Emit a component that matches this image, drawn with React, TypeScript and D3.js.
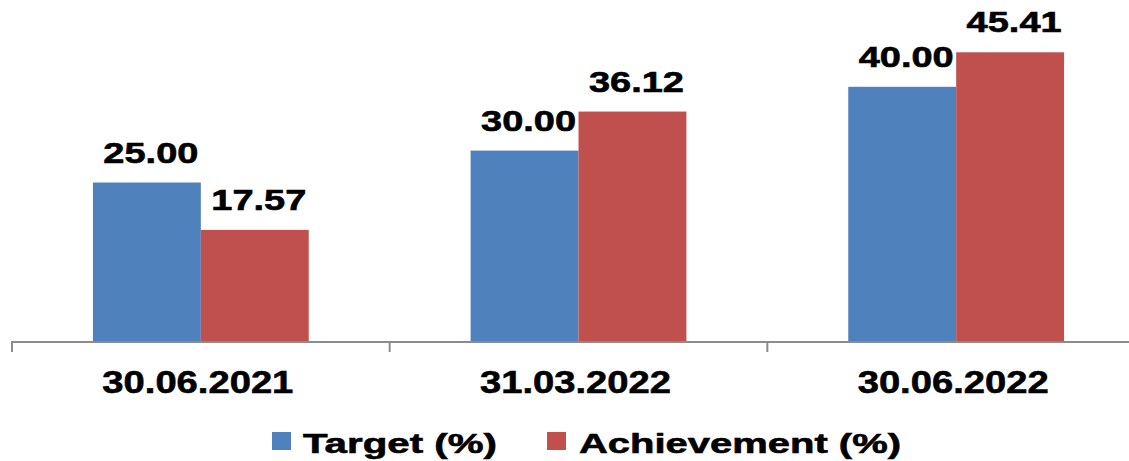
import { useEffect, useRef } from 'react';
import * as d3 from 'd3';

const categories = ['30.06.2021', '31.03.2022', '30.06.2022'];
const seriesNames = ['Target (%)', 'Achievement (%)'];
const targetValues = [25.0, 30.0, 40.0];
const achievementValues = [17.57, 36.12, 45.41];
const seriesColors = ['#4F81BD', '#C0504D'];

const W = 1129;
const H = 461;

export default function App() {
  const svgRef = useRef<SVGSVGElement>(null);

  useEffect(() => {
    if (!svgRef.current) return;
    const svg = d3.select(svgRef.current);
    svg.selectAll('*').remove();

    const font = "'Liberation Sans', Arial, sans-serif";
    const baseY = 342;

    const x0 = d3.scaleBand<string>().domain(categories).range([12, 1145]).paddingInner(0).paddingOuter(0);
    const x1 = d3.scaleBand<string>().domain(seriesNames).range([0, x0.bandwidth()]).paddingInner(0).paddingOuter(0.75);
    const y = d3.scaleLinear().domain([0, 50]).range([baseY, baseY - 319]);

    const rows = categories.map((c, i) => ({
      cat: c,
      vals: [targetValues[i], achievementValues[i]],
    }));

    // bars
    const groups = svg.append('g')
      .selectAll('g')
      .data(rows)
      .enter()
      .append('g')
      .attr('transform', d => `translate(${x0(d.cat)},0)`);

    groups.selectAll('rect')
      .data(d => d.vals.map((v, k) => ({ v, k })))
      .enter()
      .append('rect')
      .attr('x', d => x1(seriesNames[d.k])!)
      .attr('y', d => y(d.v))
      .attr('width', x1.bandwidth())
      .attr('height', d => baseY - y(d.v))
      .attr('fill', d => seriesColors[d.k]);

    // value labels
    groups.selectAll('text')
      .data(d => d.vals.map((v, k) => ({ v, k })))
      .enter()
      .append('text')
      .attr('x', d => x1(seriesNames[d.k])! + x1.bandwidth() / 2 + 4)
      .attr('y', d => y(d.v) - 20)
      .attr('text-anchor', 'middle')
      .attr('font-family', font)
      .attr('font-weight', 'bold')
      .attr('font-size', 29)
      .attr('textLength', 95)
      .attr('lengthAdjust', 'spacingAndGlyphs')
      .attr('fill', '#000')
      .attr('stroke', '#000')
      .attr('stroke-width', 0.6)
      .text(d => d.v.toFixed(2));

    // axis
    const axis = svg.append('g').attr('stroke', '#8c8c8c').attr('stroke-width', 2);
    axis.append('line')
      .attr('x1', 11).attr('x2', W + 20)
      .attr('y1', baseY).attr('y2', baseY);
    const tickXs = [...categories.map(c => x0(c)!), 1145];
    axis.selectAll('line.tick')
      .data(tickXs)
      .enter()
      .append('line')
      .attr('class', 'tick')
      .attr('x1', d => d).attr('x2', d => d)
      .attr('y1', baseY).attr('y2', baseY + 10);

    // category labels
    svg.append('g')
      .selectAll('text')
      .data(categories)
      .enter()
      .append('text')
      .attr('x', d => x0(d)! + x0.bandwidth() / 2 - 3)
      .attr('y', 393)
      .attr('text-anchor', 'middle')
      .attr('font-family', font)
      .attr('font-weight', 'bold')
      .attr('font-size', 32)
      .attr('textLength', 191)
      .attr('lengthAdjust', 'spacingAndGlyphs')
      .attr('fill', '#000')
      .attr('stroke', '#000')
      .attr('stroke-width', 0.6)
      .text(d => d);

    // legend
    const legendItems = [
      { name: seriesNames[0], color: seriesColors[0], sx: 272, tx: 303, tw: 194 },
      { name: seriesNames[1], color: seriesColors[1], sx: 547, tx: 579, tw: 322 },
    ];
    const lg = svg.append('g');
    legendItems.forEach(it => {
      lg.append('rect')
        .attr('x', it.sx).attr('y', 432)
        .attr('width', 19).attr('height', 18)
        .attr('fill', it.color);
      lg.append('text')
        .attr('x', it.tx).attr('y', 453)
        .attr('font-family', font)
        .attr('font-weight', 'bold')
        .attr('font-size', 28)
        .attr('textLength', it.tw)
        .attr('lengthAdjust', 'spacingAndGlyphs')
        .attr('fill', '#000')
        .attr('stroke', '#000')
        .attr('stroke-width', 0.6)
        .text(it.name);
    });
  }, []);

  return (
    <div style={{ position: 'absolute', left: 0, top: 0, width: W, height: H, overflow: 'hidden', background: '#fff' }}>
      <svg ref={svgRef} width={W} height={H} style={{ display: 'block' }}></svg>
    </div>
  );
}
